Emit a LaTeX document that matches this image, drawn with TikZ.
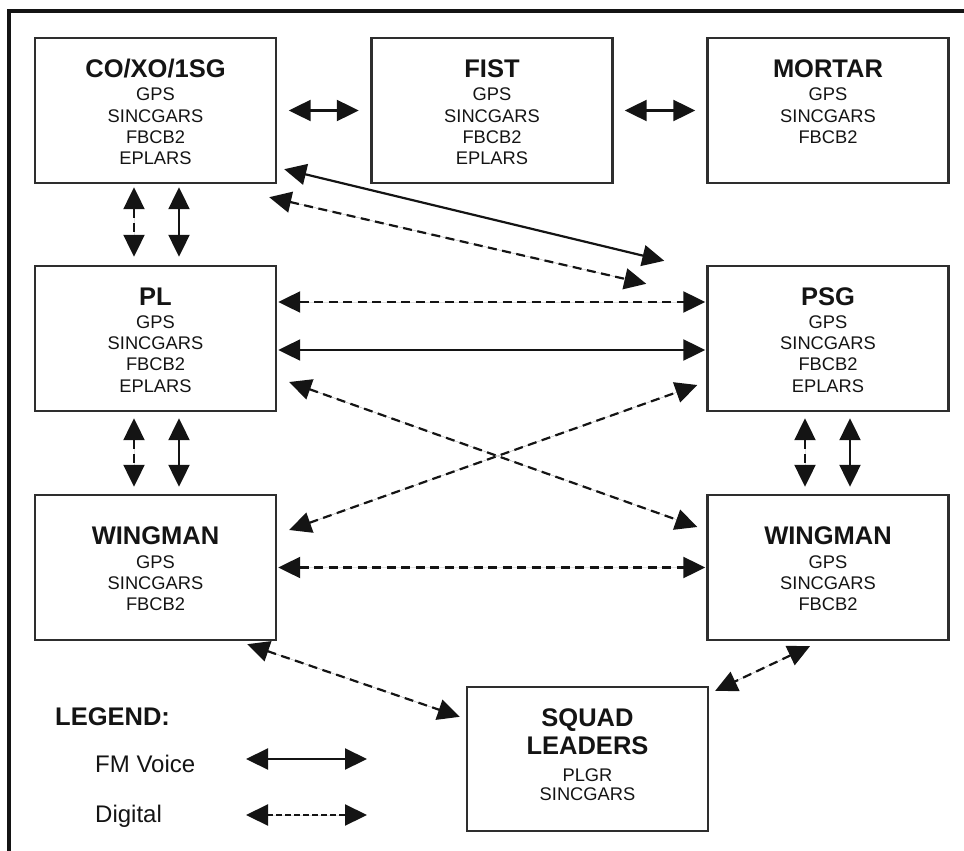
\documentclass[tikz,border=0pt]{standalone}
\usepackage{fontspec}
\setmainfont{Liberation Sans}
\usetikzlibrary{arrows.meta,calc}
\definecolor{ink}{HTML}{141414}
\definecolor{boxgray}{HTML}{2E2E2E}
\newcommand{\boxlines}[1]{\begin{tabular}[t]{@{}c@{}}#1\end{tabular}}
\begin{document}
\begin{tikzpicture}[x=1pt,y=-1pt,
  box/.style={draw=boxgray, line width=2.4pt, minimum width=241pt, minimum height=145pt, inner sep=0pt},
  ttl/.style={anchor=base, inner sep=0pt, font=\fontsize{25.5}{28.3}\selectfont\bfseries, text=ink},
  itm/.style={anchor=base, inner sep=0pt, font=\fontsize{18.3}{21.3}\selectfont, text=ink},
  con/.style={line width=2.2pt, draw=ink, fill=ink, {Triangle[length=22pt,width=21pt]}-{Triangle[length=22pt,width=21pt]}},
  dig/.style={con, dash pattern=on 9pt off 5.5pt},
  legtxt/.style={anchor=base west, inner sep=0pt, font=\fontsize{24}{28}\selectfont, text=ink}]
\useasboundingbox (0,0) rectangle (964,851);
% frame
\draw[line width=4pt, ink] (8.7,853) -- (8.7,11.5) -- (966,11.5);

% boxes
\node[box] (co) at (155.5,110.5) {};
\node[box] (fist) at (492,110.5) {};
\node[box] (mortar) at (828,110.5) {};
\node[box] (pl) at (155.5,338.5) {};
\node[box] (psg) at (828,338.5) {};
\node[box] (wl) at (155.5,567.5) {};
\node[box] (wr) at (828,567.5) {};
\node[box, minimum height=144pt] (sq) at (587.5,759) {};

% texts
\node[ttl] (coT) at (155.5,77.3) {CO/XO/1SG};
\node[itm] (coI) at (155.5,100.8) {\boxlines{GPS\\SINCGARS\\FBCB2\\EPLARS}};
\node[ttl] (fistT) at (492,77.3) {FIST};
\node[itm] (fistI) at (492,100.8) {\boxlines{GPS\\SINCGARS\\FBCB2\\EPLARS}};
\node[ttl] (mortarT) at (828,77.3) {MORTAR};
\node[itm] (mortarI) at (828,100.8) {\boxlines{GPS\\SINCGARS\\FBCB2}};
\node[ttl] (plT) at (155.5,305.7) {PL};
\node[itm] (plI) at (155.5,328.2) {\boxlines{GPS\\SINCGARS\\FBCB2\\EPLARS}};
\node[ttl] (psgT) at (828,305.7) {PSG};
\node[itm] (psgI) at (828,328.2) {\boxlines{GPS\\SINCGARS\\FBCB2\\EPLARS}};
\node[ttl] (wlT) at (155.5,544) {WINGMAN};
\node[itm] (wlI) at (155.5,568.2) {\boxlines{GPS\\SINCGARS\\FBCB2}};
\node[ttl] (wrT) at (828,544) {WINGMAN};
\node[itm] (wrI) at (828,568.2) {\boxlines{GPS\\SINCGARS\\FBCB2}};
\node[ttl] (sqT) at (587.5,726.5) {\boxlines{SQUAD\\LEADERS}};
\node[itm, font=\fontsize{18.3}{19}\selectfont] (sqI) at (587.5,781.5) {\boxlines{PLGR\\SINCGARS}};

% legend
\node[legtxt, font=\fontsize{25.5}{28}\selectfont\bfseries] (legT) at (55,725.7) {LEGEND:};
\node[legtxt] (fmT) at (95,772.3) {FM Voice};
\node[legtxt] (digT) at (95,822) {Digital};
\coordinate (fmA) at (246,759);
\coordinate (fmB) at (367,759);
\coordinate (digA) at (246,815);
\coordinate (digB) at (367,815);
\draw[con] (fmA) -- (fmB);
\draw[con, dash pattern=on 5.5pt off 3.5pt] (digA) -- (digB);

% connectors
\draw[con] ($(co.east)+(11.5,0)$) -- ($(fist.west)+(-11.5,0)$);
\draw[con] ($(fist.east)+(11,0)$) -- ($(mortar.west)+(-11,0)$);
\draw[con] ($(co.south east)+(7,-15)$) -- ($(psg.north west)+(-42,-4)$);
\draw[dig] ($(co.south east)+(-8,13)$) -- ($(psg.north west)+(-60,19)$);
\draw[dig] ($(co.south)+(-21.5,3)$) -- ($(pl.north)+(-21.5,-8)$);
\draw[con] ($(co.south)+(23.5,3)$) -- ($(pl.north)+(23.5,-8)$);
\draw[dig] ($(pl.east)+(1,-36.5)$) -- ($(psg.west)+(-1,-36.5)$);
\draw[con] ($(pl.east)+(1,11.5)$) -- ($(psg.west)+(-1,11.5)$);
\draw[dig] ($(pl.east)+(12,43.5)$) -- ($(wr.west)+(-9,-40.5)$);
\draw[dig] ($(wl.east)+(12,-37.5)$) -- ($(psg.west)+(-9,46.5)$);
\draw[dig] ($(pl.south)+(-21.5,6)$) -- ($(wl.north)+(-21.5,-7)$);
\draw[con] ($(pl.south)+(23.5,6)$) -- ($(wl.north)+(23.5,-7)$);
\draw[dig] ($(psg.south)+(-23,6)$) -- ($(wr.north)+(-23,-7)$);
\draw[con] ($(psg.south)+(22,6)$) -- ($(wr.north)+(22,-7)$);
\draw[dig] ($(wl.east)+(1,0)$) -- ($(wr.west)+(-1,0)$);
\draw[dig] ($(wl.south east)+(-30,3)$) -- ($(sq.north west)+(-6,31)$);
\draw[dig] ($(wr.south)+(-18,5)$) -- ($(sq.north east)+(6,5)$);
\end{tikzpicture}
\end{document}
